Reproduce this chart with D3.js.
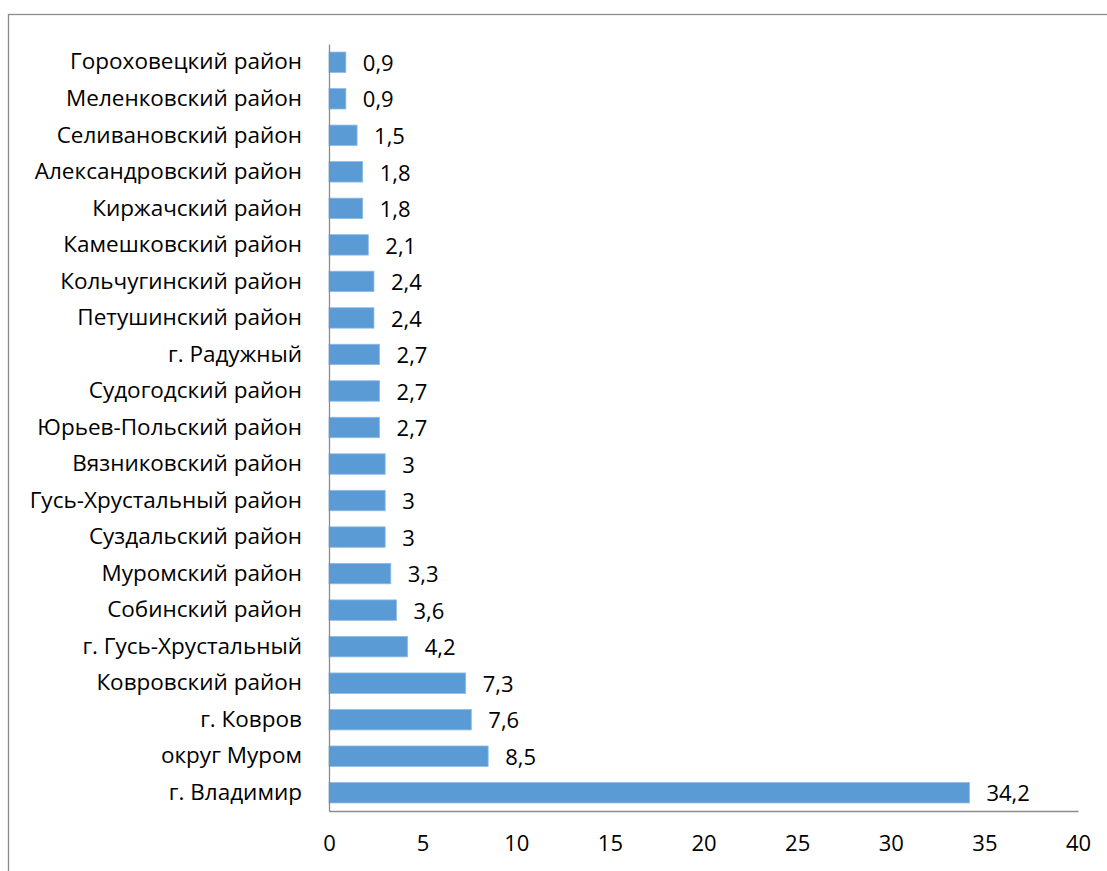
<!DOCTYPE html>
<html lang="ru">
<head>
    <meta charset="UTF-8">
    <title>Районы</title>
    <script src="https://d3js.org/d3.v7.min.js"></script>
    <style>
        body {
            margin: 0;
            background: #fff;
        }
        svg {
            display: block;
            font-family: "Open Sans", "Noto Sans", sans-serif;
        }
    </style>
</head>
<body>
<div id="chart"></div>
<script>
    // top to bottom as in the picture
    const districts = [
        "Гороховецкий район", "Меленковский район", "Селивановский район",
        "Александровский район", "Киржачский район", "Камешковский район",
        "Кольчугинский район", "Петушинский район", "г. Радужный",
        "Судогодский район", "Юрьев-Польский район", "Вязниковский район",
        "Гусь-Хрустальный район", "Суздальский район", "Муромский район",
        "Собинский район", "г. Гусь-Хрустальный", "Ковровский район",
        "г. Ковров", "округ Муром", "г. Владимир"
    ];
    const values = [
        0.9, 0.9, 1.5, 1.8, 1.8, 2.1, 2.4, 2.4, 2.7, 2.7, 2.7,
        3, 3, 3, 3.3, 3.6, 4.2, 7.3, 7.6, 8.5, 34.2
    ];
    const xTicks = [0, 5, 10, 15, 20, 25, 30, 35, 40];

    const width = 1107, height = 871;
    const plot = { left: 329, right: 1078, top: 44, bottom: 811 };

    const svg = d3.select("#chart").append("svg")
        .attr("width", width)
        .attr("height", height);

    // outer chart frame (right and bottom run past the picture)
    svg.append("rect")
        .attr("x", 8.5).attr("y", 14.5)
        .attr("width", 1120).attr("height", 880)
        .attr("fill", "none")
        .attr("stroke", "#8c8c8c")
        .attr("stroke-width", 1.3);

    const x = d3.scaleLinear().domain([0, 40]).range([plot.left, plot.right]);
    const y = d3.scaleBand().domain(districts).range([plot.top, plot.bottom])
        .paddingInner(0.44).paddingOuter(0.22);

    const fmt = v => String(v).replace(".", ",");

    svg.append("g").selectAll("rect")
        .data(districts)
        .join("rect")
        .attr("x", x(0))
        .attr("y", d => y(d))
        .attr("width", (d, i) => x(values[i]) - x(0))
        .attr("height", y.bandwidth())
        .attr("fill", "#5b9bd5")
        .attr("stroke", "#8fbce6")
        .attr("stroke-width", 0.8);

    svg.append("g").selectAll("text")
        .data(districts)
        .join("text")
        .attr("x", (d, i) => x(values[i]) + 17)
        .attr("y", d => y(d) + y.bandwidth() / 2 + 1)
        .attr("dy", "0.35em")
        .attr("font-size", 22)
        .attr("fill", "#000")
        .text((d, i) => fmt(values[i]));

    // category axis
    const yAxis = svg.append("g")
        .attr("transform", `translate(${plot.left},0)`)
        .call(d3.axisLeft(y).tickSize(0).tickPadding(27));
    yAxis.select(".domain").attr("stroke", "#8c8c8c").attr("stroke-width", 1.3);
    yAxis.selectAll("text")
        .attr("font-family", "\"Open Sans\", sans-serif")
        .attr("font-size", 22.5)
        .attr("fill", "#000");

    // value axis
    const xAxis = svg.append("g")
        .attr("transform", `translate(0,${plot.bottom})`)
        .call(d3.axisBottom(x).tickValues(xTicks).tickSize(0).tickPadding(24));
    xAxis.select(".domain").attr("stroke", "#8c8c8c").attr("stroke-width", 1.3);
    xAxis.selectAll("text")
        .attr("font-family", "\"Open Sans\", sans-serif")
        .attr("font-size", 22)
        .attr("fill", "#000");
</script>
</body>
</html>
